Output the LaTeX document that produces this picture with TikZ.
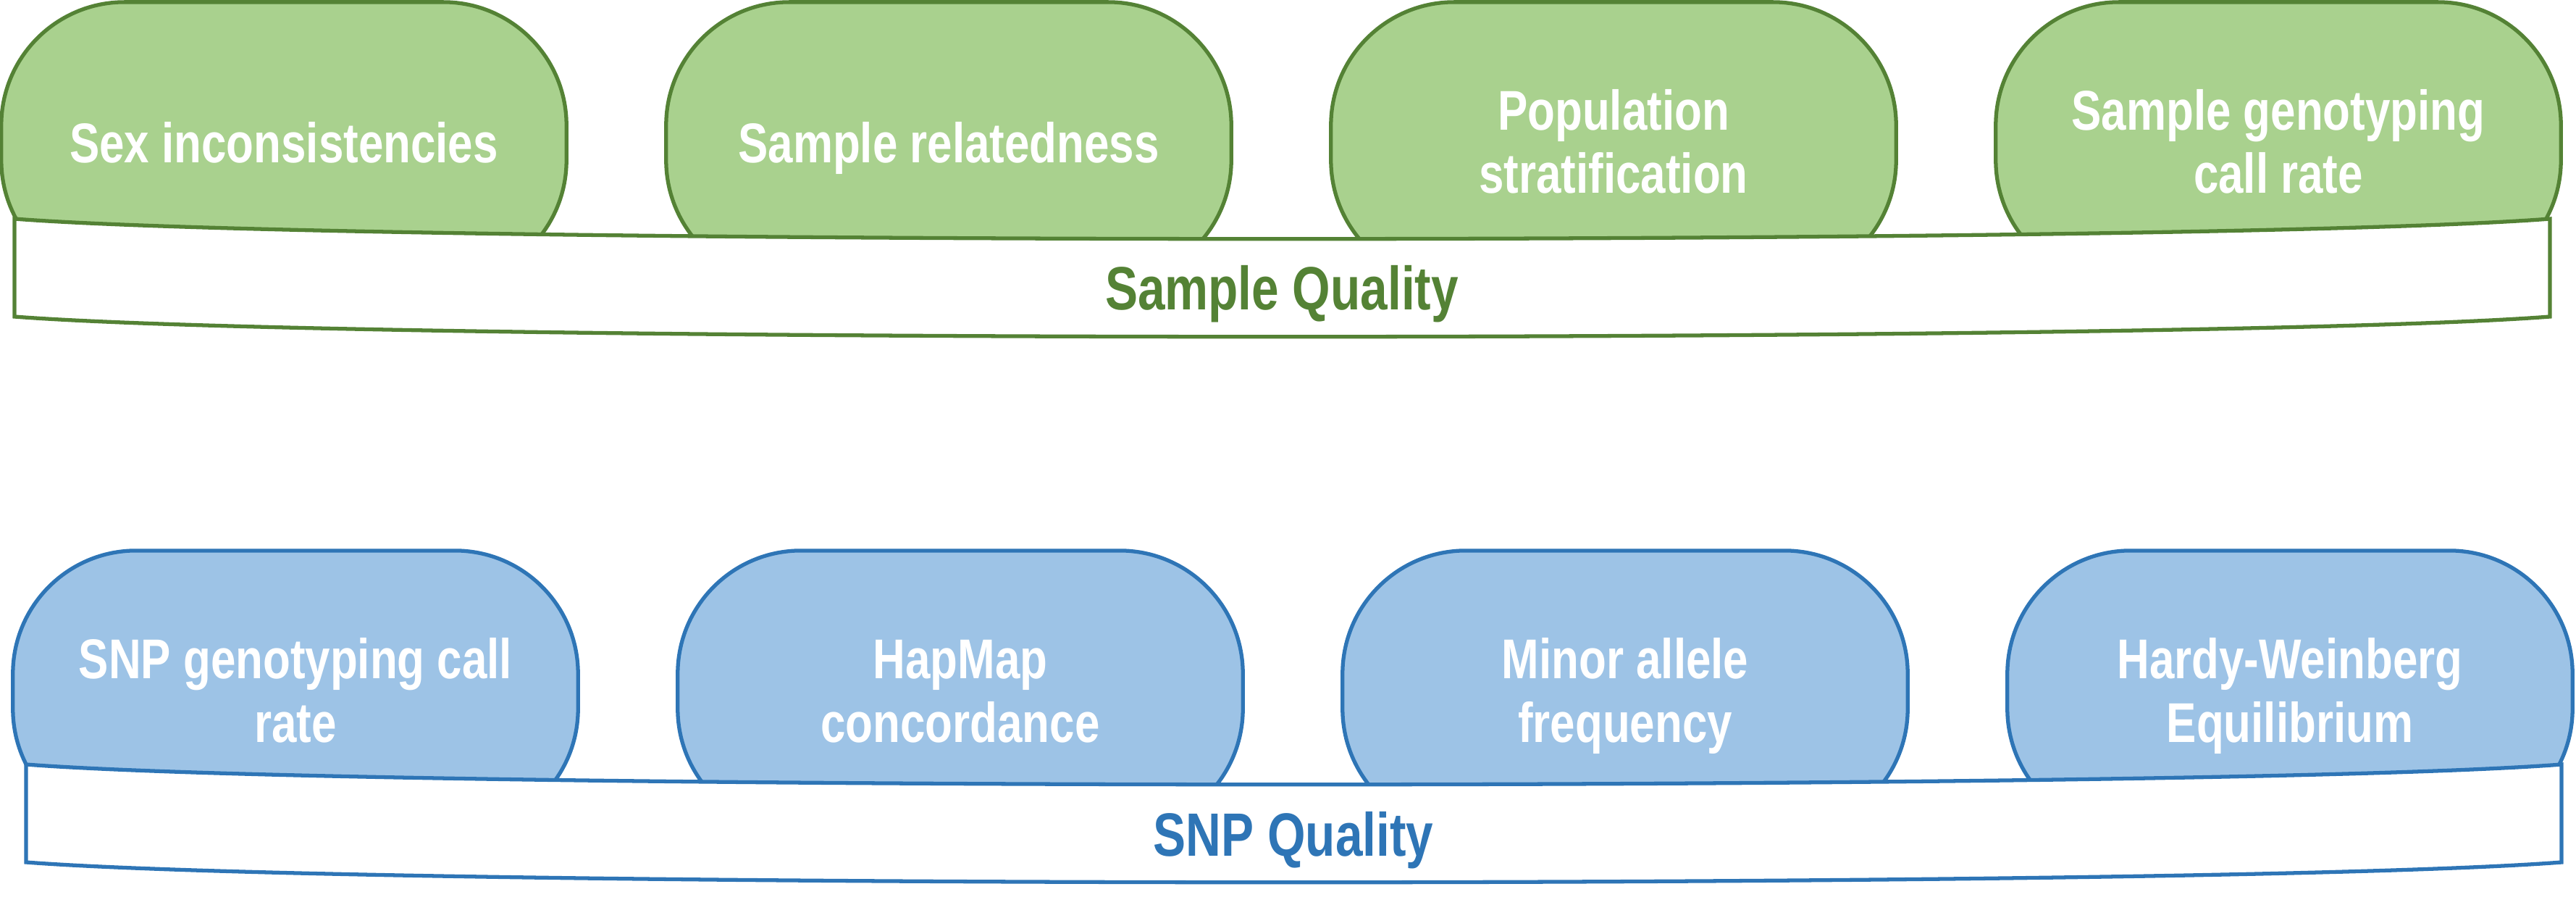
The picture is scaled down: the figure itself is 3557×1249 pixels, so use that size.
\documentclass[tikz,border=0pt]{standalone}
\usepackage{fontspec}
\setmainfont{Liberation Sans}[FakeStretch=0.8]
\usepackage{tikz}
\definecolor{qcgreen}{HTML}{548235}
\definecolor{qcgreenfill}{HTML}{A9D18E}
\definecolor{qcblue}{HTML}{2E75B6}
\definecolor{qcbluefill}{HTML}{9DC3E6}

\begin{document}
\begin{tikzpicture}[x=0.01cm,y=-0.01cm,
    qbox/.style={rounded corners=1.7cm,line width=1.5pt,minimum width=7.8cm,minimum height=3.88cm,inner sep=0pt},
    gbox/.style={qbox,draw=qcgreen,fill=qcgreenfill},
    bbox/.style={qbox,draw=qcblue,fill=qcbluefill},
    boxtext/.style={text=white,font=\bfseries\fontsize{22}{25}\selectfont,align=center,anchor=base,inner sep=0pt},
    band/.style={line width=1.5pt,fill=white},
    bandtext/.style={font=\bfseries\fontsize{24}{28}\selectfont,anchor=base,inner sep=0pt}]
            \useasboundingbox (0,0) rectangle (3557,1249);
            %sample checks
            \node[gbox] (s1) at (392,197) {};
            \node[gbox] (s2) at (1310,197) {};
            \node[gbox] (s3) at (2228,197) {};
            \node[gbox] (s4) at (3146,197) {};
            %Sample Quality
            \draw[band,draw=qcgreen] (20,302) .. controls (500,339) and (3041,339) .. (3521,302)
                -- (3521,437) .. controls (3041,474) and (500,474) .. (20,437) -- cycle;
            \node[bandtext,text=qcgreen] (sq) at (1770,428) {Sample Quality};
            \node[boxtext] (t1) at (392,225) {Sex inconsistencies};
            \node[boxtext] (t2) at (1310,225) {Sample relatedness};
            \node[boxtext] (t3) at (2228,267) {Population\\stratification};
            \node[boxtext] (t4) at (3146,267) {Sample genotyping\\call rate};
            %SNP checks
            \node[bbox] (p1) at (408,954) {};
            \node[bbox] (p2) at (1326,954) {};
            \node[bbox] (p3) at (2244,954) {};
            \node[bbox] (p4) at (3162,954) {};
            %SNP Quality
            \draw[band,draw=qcblue] (36,1055) .. controls (516,1092) and (3057,1092) .. (3537,1055)
                -- (3537,1190) .. controls (3057,1227) and (516,1227) .. (36,1190) -- cycle;
            \node[bandtext,text=qcblue] (pq) at (1786,1181) {SNP Quality};
            \node[boxtext] (u1) at (408,1024) {SNP genotyping call\\rate};
            \node[boxtext] (u2) at (1326,1024) {HapMap\\concordance};
            \node[boxtext] (u3) at (2244,1024) {Minor allele\\frequency};
            \node[boxtext] (u4) at (3162,1024) {Hardy-Weinberg\\Equilibrium};
        \end{tikzpicture}
\end{document}
